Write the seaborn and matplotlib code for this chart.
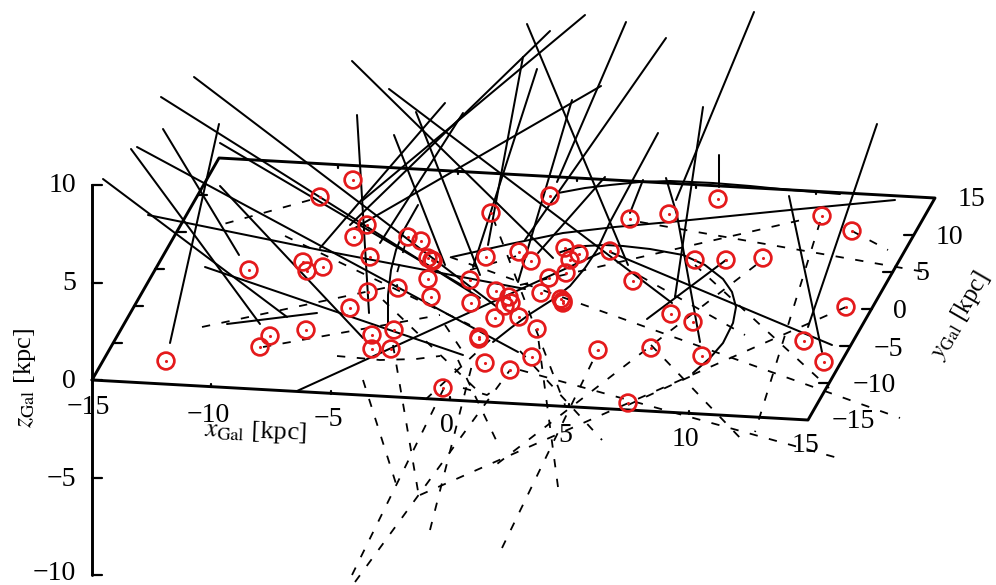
import pandas as pd
import matplotlib
matplotlib.use('Agg')
import matplotlib.pyplot as plt
import seaborn as sns

circle_x = [166, 249, 260, 270, 303, 307, 323, 306, 320, 353, 367, 354, 370, 350, 368, 372, 372, 391, 394,
            398, 408, 421, 428, 432, 433, 428, 431, 443, 491, 550, 630, 669, 718, 486, 519, 531, 565, 579,
            570, 610, 566, 549, 633, 695, 726, 763, 470, 471, 496, 509, 511, 505, 541, 495, 519, 561, 563,
            563, 537, 671, 693, 479, 479, 485, 510, 532, 598, 651, 702, 628, 822, 852, 846, 804, 824]
circle_y = [361, 270, 347, 336, 262, 271, 267, 330, 197, 180, 225, 237, 257, 308, 292, 335, 349, 349, 330,
            288, 237, 241, 258, 260, 261, 279, 297, 388, 213, 196, 219, 214, 199, 257, 252, 261, 248, 254,
            260, 251, 273, 278, 281, 260, 260, 258, 280, 303, 291, 297, 303, 306, 293, 318, 317, 299, 301,
            303, 329, 314, 322, 337, 339, 363, 370, 357, 350, 348, 356, 403, 216, 231, 307, 341, 362]

solid_lines = [
    [(103, 179), (287, 317)], [(131, 149), (260, 324)], [(137, 147), (518, 352)], [(163, 129), (239, 255)],
    [(220, 186), (363, 338)], [(161, 97), (480, 298)], [(194, 77), (497, 307)], [(220, 143), (470, 290)],
    [(352, 61), (553, 258)], [(389, 89), (672, 303)], [(416, 112), (480, 275)], [(394, 135), (445, 265)],
    [(357, 115), (369, 313)], [(219, 124), (170, 343)], [(205, 267), (463, 355)], [(227, 324), (317, 313)],
    [(297, 391), (600, 253)], [(148, 215), (320, 250), (525, 289)],
    [(493, 342), (512, 327), (530, 314), (552, 300), (570, 286), (585, 268), (597, 250), (610, 222), (658, 133)],
    [(452, 257), (510, 244), (563, 233), (615, 227), (670, 222), (730, 216), (790, 210), (895, 200)],
    [(558, 253), (570, 249), (585, 246), (605, 245), (623, 246), (650, 249), (683, 255), (705, 265), (723, 279),
     (732, 292), (736, 307), (733, 323), (723, 343), (710, 358), (693, 373)],
    [(647, 319), (726, 260)], [(703, 107), (675, 297)], [(666, 178), (677, 215), (700, 342)],
    [(719, 155), (719, 187)], [(754, 12), (676, 200)], [(643, 180), (630, 213)], [(666, 38), (525, 240)],
    [(626, 22), (557, 182)], [(605, 177), (538, 253)], [(572, 100), (518, 282)], [(527, 24), (628, 265)],
    [(585, 15), (363, 200)], [(550, 31), (350, 225)], [(523, 57), (488, 245)], [(537, 69), (473, 267)],
    [(601, 86), (355, 228)], [(463, 113), (380, 243)], [(445, 103), (320, 248)], [(789, 196), (822, 352)],
    [(877, 124), (808, 327)], [(610, 252), (832, 345)],
    [(558, 193), (585, 188), (610, 185), (640, 182), (670, 181), (713, 183), (750, 186), (780, 189), (840, 194)],
    [(418, 205), (405, 228), (396, 250), (391, 270), (388, 295), (388, 323)],
]

dashed_lines = [
    [(310, 200), (220, 225)], [(202, 327), (398, 285)], [(263, 347), (440, 315)],
    [(337, 356), (380, 360), (416, 359), (440, 356)], [(363, 380), (398, 490)], [(393, 345), (419, 497)],
    [(420, 495), (846, 307)], [(355, 582), (510, 370)], [(352, 575), (444, 388)], [(430, 530), (472, 365)],
    [(558, 487), (537, 329)], [(502, 548), (598, 350)], [(458, 360), (497, 442)], [(520, 351), (602, 440)],
    [(520, 370), (838, 458)], [(695, 265), (829, 388)], [(450, 257), (900, 418)], [(852, 231), (888, 250)],
    [(640, 222), (925, 272)], [(520, 285), (810, 218)], [(756, 265), (497, 464)], [(820, 222), (755, 432)],
    [(640, 276), (745, 335)], [(628, 405), (700, 372)], [(651, 345), (745, 443)], [(470, 270), (520, 255)],
    [(285, 236), (470, 325)], [(383, 300), (480, 393)], [(405, 245), (395, 280)], [(490, 340), (425, 400)],
    [(493, 218), (565, 405)], [(445, 325), (465, 355)], [(463, 388), (487, 395), (497, 388)],
]

frame_x = [92, 219, 935, 808, 92]
frame_y = [380, 158, 198, 420, 380]

z_tick_labels = ['10', '5', '0', '\u22125', '\u221210']
z_tick_y = [185, 283, 380, 478, 575]
z_label_y = [183, 281, 378, 477, 570]
x_tick_labels = ['\u221215', '\u221210', '\u22125', '0', '5', '10', '15']
x_label_x = [88, 208, 328, 447, 565, 685, 805]
x_label_y = [405, 412, 417, 423, 432, 437, 443]
y_tick_labels = ['\u221215', '\u221210', '\u22125', '0', '5', '10', '15']
y_label_x = [853, 874, 888, 900, 922, 949, 971]
y_label_y = [419, 382, 346, 308, 271, 234, 197]

# ticks on the edges of the plane
left_edge_x = [113, 134, 155, 177, 198]
left_edge_y = [343, 306, 269, 232, 195]
right_edge_x = [829, 850, 872, 893, 914]
right_edge_y = [383, 346, 309, 272, 235]
bottom_edge_x = [211, 331, 450, 569, 689]
bottom_edge_y = [387, 394, 400, 407, 414]
top_edge_x = [338, 458, 577, 696, 816]
top_edge_y = [165, 171, 178, 185, 191]


def lines_frame(lines):
    rows = []
    for i, line in enumerate(lines):
        for j, (x, y) in enumerate(line):
            rows.append({'line': i, 'order': j, 'x': x, 'y': y})
    return pd.DataFrame(rows)


def draw_lines(ax, lines, **kwargs):
    sns.lineplot(data=lines_frame(lines), x='x', y='y', units='line', estimator=None, sort=False,
                 color='black', legend=False, ax=ax, **kwargs)


sns.set_theme(style='white')
plt.rcParams['font.family'] = ['Liberation Serif', 'DejaVu Serif']
plt.rcParams['mathtext.fontset'] = 'stix'
plt.rcParams['text.color'] = 'black'

fig = plt.figure(figsize=(9.96, 5.85), dpi=100)
ax = fig.add_axes([0, 0, 1, 1])

draw_lines(ax, dashed_lines, linewidth=1.3, linestyle=(0, (4.6, 6.4)))
draw_lines(ax, solid_lines, linewidth=1.45)

# plane and the z axis
sns.lineplot(x=frame_x, y=frame_y, sort=False, estimator=None, color='black', linewidth=2.1, ax=ax)
sns.lineplot(x=[92, 92], y=[185, 575], sort=False, estimator=None, color='black', linewidth=2.1, ax=ax)

tick_lines = [[(92, y), (102, y)] for y in z_tick_y]
tick_lines += [[(x, y), (x + 9, y)] for x, y in zip(left_edge_x, left_edge_y)]
tick_lines += [[(x, y), (x - 10, y)] for x, y in zip(right_edge_x, right_edge_y)]
tick_lines += [[(x, y), (x, y - 3)] for x, y in zip(bottom_edge_x, bottom_edge_y)]
tick_lines += [[(x, y), (x, y + 3)] for x, y in zip(top_edge_x, top_edge_y)]
draw_lines(ax, tick_lines, linewidth=1.6)

sns.scatterplot(x=circle_x, y=circle_y, s=145, facecolor='none', edgecolor='#e41a1c', linewidth=1.95, ax=ax, zorder=5)
sns.scatterplot(x=circle_x, y=circle_y, s=5, color='#e41a1c', linewidth=0, ax=ax, zorder=5)

for label, y in zip(z_tick_labels, z_label_y):
    ax.text(76, y, label, fontsize=20, ha='right', va='center_baseline')
for label, x, y in zip(x_tick_labels, x_label_x, x_label_y):
    ax.text(x, y, label, fontsize=20, ha='center', va='center_baseline')
for label, x, y in zip(y_tick_labels, y_label_x, y_label_y):
    ax.text(x, y, label, fontsize=20, ha='center', va='center_baseline')

ax.text(256, 432, r'$x_{\mathrm{Gal}}$ [kpc]', fontsize=19, ha='center', va='center', rotation=-2)
ax.text(960, 315, r'$y_{\mathrm{Gal}}$ [kpc]', fontsize=18, ha='center', va='center', rotation=60)
ax.text(25, 378, r'$z_{\mathrm{Gal}}$ [kpc]', fontsize=19, ha='center', va='center', rotation=90)

ax.set_xlim(0, 996)
ax.set_ylim(585, 0)
ax.axis('off')
fig.savefig('out.png', dpi=100)
plt.close(fig)
